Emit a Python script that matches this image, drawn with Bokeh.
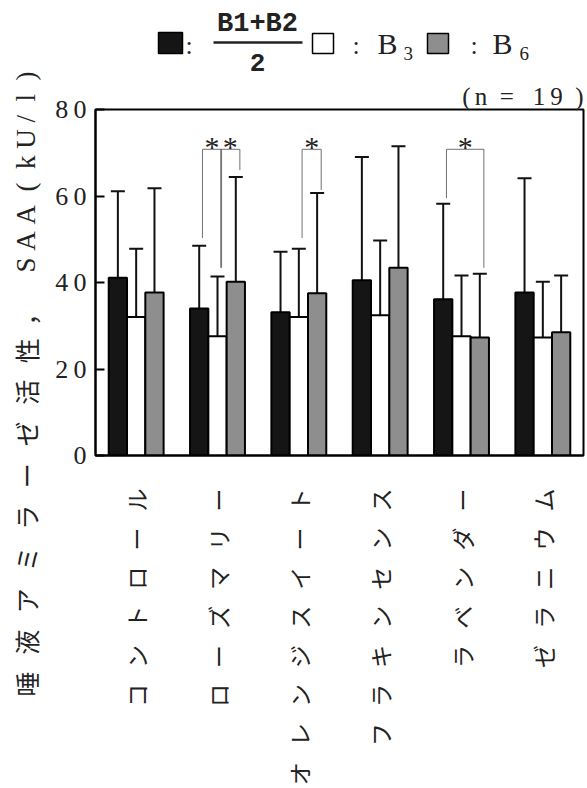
import math
from bokeh.plotting import figure
from bokeh.layouts import row, column
from bokeh.models import Range1d, FixedTicker, Whisker, TeeHead, ColumnDataSource
from bokeh.transform import dodge
from bokeh.core.properties import value
from bokeh.embed import file_html
from bokeh.resources import INLINE

# ---------------- data ----------------
categories = ["コントロール", "ローズマリー", "オレンジスイート",
              "フラキンセンス", "ラベンダー", "ゼラニウム"]
b12_mean = [41.1, 34.0, 33.1, 40.5, 36.1, 37.7]
b12_sd = [20.0, 14.5, 14.0, 28.5, 22.1, 26.4]
b3_mean = [32.0, 27.6, 32.0, 32.4, 27.6, 27.3]
b3_sd = [15.8, 13.8, 15.8, 17.3, 14.0, 12.9]
b6_mean = [37.7, 40.2, 37.5, 43.4, 27.3, 28.5]
b6_sd = [24.1, 24.2, 23.2, 28.1, 14.7, 13.1]
y_ticks = [0, 20, 40, 60, 80]

# significance brackets: category, from-series, to-series, end heights, top
sig_cat = ["ローズマリー", "ローズマリー", "オレンジスイート", "ラベンダー"]
sig_from = [0, 1, 1, 0]
sig_to = [1, 2, 2, 2]
sig_left_y = [50.3, 43.4, 50.3, 59.5]
sig_right_y = [43.4, 66.0, 61.4, 43.4]
sig_top_y = [70.8, 70.8, 70.8, 70.8]

# ---------------- styles ----------------
W, H = 587, 788
LEFT_W = 45
TOP_H = 79
FRAME_TOP = 109
FRAME_L, FRAME_R = 95, 583
SERIF = "Liberation Serif"
JP = "Noto Sans CJK JP"
MONO = "Liberation Mono"
bar_w = 0.225
offsets = [-0.225, 0.0, 0.225]
fills = ["#151515", "#ffffff", "#8e8e8e"]
INK = "#222222"

def spaced(s, gap="\u2002\u2009"):
    return gap.join(list(s))

def blank(fig):
    fig.axis.visible = False
    fig.grid.visible = False
    fig.outline_line_color = None
    fig.min_border = 0
    fig.background_fill_color = "white"
    fig.border_fill_color = "white"

# ---------------- main chart ----------------
cat_labels = [spaced(c) for c in categories]
src = ColumnDataSource(dict(
    cat=cat_labels,
    b12=b12_mean, b12_up=[m + s for m, s in zip(b12_mean, b12_sd)],
    b3=b3_mean, b3_up=[m + s for m, s in zip(b3_mean, b3_sd)],
    b6=b6_mean, b6_up=[m + s for m, s in zip(b6_mean, b6_sd)],
))

p = figure(width=W - LEFT_W, height=H - TOP_H, x_range=cat_labels,
           y_range=Range1d(0, 80), output_backend="svg", toolbar_location=None,
           min_border_left=FRAME_L - LEFT_W, min_border_right=W - FRAME_R,
           min_border_top=FRAME_TOP - TOP_H, min_border_bottom=331,
           title="(\u2006n\u2002=\u2002\u20051\u20099\u2002)")
p.title.align = "right"
p.title.text_font = SERIF
p.title.text_font_size = "25px"
p.title.text_font_style = "normal"
p.title.text_color = INK
p.title.standoff = 0
p.title.offset = 0
p.x_range.range_padding = 0
p.x_range.factor_padding = 0
p.grid.visible = False
p.outline_line_color = "black"
p.outline_line_width = 2
p.background_fill_color = "white"
p.border_fill_color = "white"

cols = ["b12", "b3", "b6"]
for c, off, fc in zip(cols, offsets, fills):
    p.vbar(x=dodge("cat", off, range=p.x_range), top=c, bottom=0, width=bar_w,
           source=src, fill_color=fc, line_color="black", line_width=2)
for c, off in zip(cols, offsets):
    p.add_layout(Whisker(source=src, base=dodge("cat", off, range=p.x_range), lower=c,
                         upper=c + "_up", dimension="height", line_width=2,
                         line_color="#111",
                         upper_head=TeeHead(size=14, line_width=2, line_color="#111"),
                         lower_head=None))

bx, by = [], []
for cat, f, t, ly, ry, ty in zip(sig_cat, sig_from, sig_to, sig_left_y, sig_right_y, sig_top_y):
    i = categories.index(cat) + 0.5
    x0 = i + offsets[f] + 0.04
    x1 = i + offsets[t] + 0.05
    bx.append([x0, x0, x1, x1])
    by.append([ly, ty, ty, ry])
p.multi_line(xs=bx, ys=by, line_color="#707070", line_width=1)
star_x = [(xs[1] + xs[2]) / 2 for xs in bx]
star_y = [t + 0.6 for t in sig_top_y]
p.text(x=star_x, y=star_y, text=["*"] * len(star_x), text_align="center",
       text_baseline="middle", text_font=value(SERIF), text_font_size="30px",
       text_color=INK)

ya = p.yaxis[0]
ya.ticker = FixedTicker(ticks=y_ticks)
ya.major_label_overrides = {t: "\u2009".join(str(t)) for t in y_ticks}
ya.major_label_text_font = SERIF
ya.major_label_text_font_size = "26px"
ya.major_label_text_color = INK
ya.major_tick_in = 9
ya.major_tick_out = 0
ya.major_tick_line_width = 2
ya.minor_tick_line_color = None
ya.axis_line_width = 2
ya.major_label_standoff = 9

xa = p.xaxis[0]
xa.major_tick_line_color = None
xa.minor_tick_line_color = None
xa.axis_line_width = 2
xa.major_label_orientation = math.pi / 2
xa.major_label_text_font = JP
xa.major_label_text_font_size = "23px"
xa.major_label_text_color = INK
xa.major_label_standoff = 27

# ---------------- legend strip (page-pixel coordinates) ----------------
lg = figure(width=W - LEFT_W, height=TOP_H, x_range=Range1d(FRAME_L, FRAME_R),
            y_range=Range1d(TOP_H, 0), output_backend="svg", toolbar_location=None)
blank(lg)
lg.quad(left=[158, 312, 427], right=[182, 333, 448], top=[32, 33, 33],
        bottom=[53, 53, 53], fill_color=fills, line_color="black", line_width=1.5)
lg.segment(x0=[213], y0=[42], x1=[302], y1=[42], line_color=INK, line_width=2.5)

def t(fig, x, y, text, size="26px", font=SERIF, style="normal", align="left",
      base="middle", angle=0.0):
    fig.text(x=[x], y=[y], text=[text], text_font=value(font), text_font_size=size,
             text_font_style=style, text_align=align, text_baseline=base,
             text_color=INK, angle=angle)

t(lg, 185, 45, ":")
t(lg, 257, 23, "B1+B2", size="27px", font=MONO, style="bold", align="center")
t(lg, 257, 62, "2", size="26px", font=MONO, style="bold", align="center")
t(lg, 352, 45, ":")
t(lg, 377, 43, "B", size="30px")
t(lg, 403, 53, "3", size="19px")
t(lg, 470, 45, ":")
t(lg, 492, 43, "B", size="30px")
t(lg, 519, 53, "6", size="19px")

# ---------------- y-axis title strip ----------------
yl = figure(width=LEFT_W, height=H, x_range=Range1d(0, LEFT_W), y_range=Range1d(H, 0),
            output_backend="svg", toolbar_location=None)
blank(yl)
t(yl, 25, 696, spaced("唾液アミラーゼ活性", "\u2002\u2006") + "\u2002，",
  size="25px", font=JP, align="left", angle=math.pi / 2)
t(yl, 25, 272, "S\u2005A\u2005A\u2002(\u2002k\u2005U\u2005/\u2002l\u2002)",
  size="27px", font=SERIF, align="left", angle=math.pi / 2)

layout = row(yl, column(lg, p, spacing=0), spacing=0)
open("out.html", "w").write(file_html(layout, INLINE))
